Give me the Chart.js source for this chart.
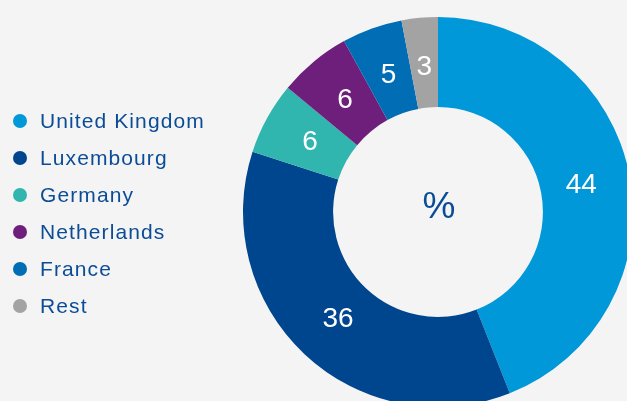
<!DOCTYPE html>
<html>
<head>
<meta charset="utf-8">
<script src="https://cdn.jsdelivr.net/npm/chart.js@4.4.1/dist/chart.umd.min.js"></script>
<style>
  html, body { margin: 0; padding: 0; background: #f4f4f4; overflow: hidden; }
  #wrap { position: relative; width: 627px; height: 401px; }
  canvas { display: block; }
</style>
</head>
<body>
<div id="wrap"><canvas id="c" width="627" height="401"></canvas></div>
<script>
const categories = ['United Kingdom', 'Luxembourg', 'Germany', 'Netherlands', 'France', 'Rest'];
const shares = [44, 36, 6, 6, 5, 3];
const sliceColors = ['#0098d8', '#00468e', '#30b5af', '#6e1f7b', '#006db5', '#a3a3a3'];
const centerLabel = '%';

const textBlue = '#0b4c97';
const fontFamily = '"Liberation Sans", Arial, Helvetica, sans-serif';

const overlayPlugin = {
  id: 'overlay',
  afterDatasetsDraw(chart) {
    const ctx = chart.ctx;
    const meta = chart.getDatasetMeta(0);
    ctx.save();
    // slice value labels
    ctx.fillStyle = '#ffffff';
    ctx.font = '28px ' + fontFamily;
    ctx.textAlign = 'center';
    ctx.textBaseline = 'middle';
    meta.data.forEach((arc, i) => {
      const pr = arc.getProps(['x', 'y', 'startAngle', 'endAngle', 'innerRadius', 'outerRadius']);
      const mid = (pr.startAngle + pr.endAngle) / 2;
      const r = (pr.innerRadius + pr.outerRadius) / 2 - 4;
      const px = pr.x + Math.cos(mid) * r;
      const py = pr.y + Math.sin(mid) * r;
      ctx.fillText(String(chart.data.datasets[0].data[i]), px, py + 1);
    });
    // center label
    const a0 = meta.data[0];
    ctx.fillStyle = textBlue;
    ctx.font = '37px ' + fontFamily;
    ctx.fillText(centerLabel, a0.x + 1, a0.y - 4);
    // legend
    ctx.textAlign = 'left';
    ctx.textBaseline = 'middle';
    ctx.font = '21px ' + fontFamily;
    try { ctx.letterSpacing = '1.1px'; } catch (e) {}
    chart.data.labels.forEach((lab, i) => {
      const y = 121 + i * 37;
      ctx.fillStyle = chart.data.datasets[0].backgroundColor[i];
      ctx.beginPath();
      ctx.arc(20, y, 7, 0, Math.PI * 2);
      ctx.fill();
      ctx.fillStyle = textBlue;
      ctx.fillText(lab, 40, y + 1);
    });
    ctx.restore();
  }
};

new Chart(document.getElementById('c'), {
  type: 'doughnut',
  data: {
    labels: categories,
    datasets: [{
      data: shares,
      backgroundColor: sliceColors,
      borderWidth: 0,
      hoverOffset: 0,
      offset: 0,
      clip: false
    }]
  },
  options: {
    responsive: false,
    animation: false,
    radius: 195,
    cutout: '53.8%',
    layout: { padding: { left: 249, top: 23, right: 0, bottom: 0 } },
    plugins: {
      legend: { display: false },
      tooltip: { enabled: false }
    },
    events: []
  },
  plugins: [overlayPlugin]
});
</script>
</body>
</html>
